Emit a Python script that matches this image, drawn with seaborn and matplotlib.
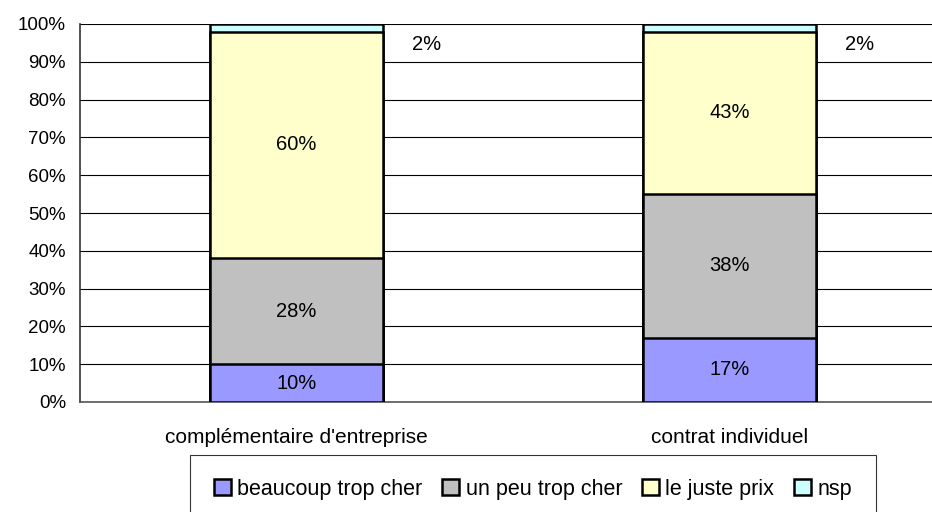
import matplotlib
matplotlib.use("Agg")
import matplotlib.pyplot as plt
from matplotlib.patches import Patch
import seaborn as sns
import numpy as np
import pandas as pd

sns.set_style("white")
plt.rcParams['font.family'] = ['Liberation Sans', 'DejaVu Sans']
plt.rcParams['text.color'] = 'black'
plt.rcParams['xtick.color'] = 'black'
plt.rcParams['ytick.color'] = 'black'

# data
categories = ["complémentaire d'entreprise", "contrat individuel"]
series = ["beaucoup trop cher", "un peu trop cher", "le juste prix", "nsp"]
beaucoup = [10, 17]
un_peu = [28, 38]
juste_prix = [60, 43]
nsp = [2, 2]
colors = ["#9999FF", "#C0C0C0", "#FFFFCC", "#CCFFFF"]

values = np.array([beaucoup, un_peu, juste_prix, nsp], dtype=float)
tops = values.cumsum(axis=0)
bottoms = tops - values

fig = plt.figure(figsize=(9.32, 5.12), dpi=100)
ax = fig.add_axes([80 / 932, 1 - 402 / 512, 866 / 932, 378 / 512])

# stacked bars: draw cumulative heights from the top segment down
for i in reversed(range(len(series))):
    df = pd.DataFrame({"cat": categories, "val": tops[i]})
    sns.barplot(data=df, x="cat", y="val", color=colors[i], saturation=1,
                width=0.4, edgecolor="black", linewidth=1.8, ax=ax, zorder=3)

# segment labels
for j in range(len(categories)):
    for i in range(len(series)):
        v = values[i, j]
        if i == len(series) - 1:
            ax.text(j + 0.3, 94.5, f"{v:.0f}%", ha="center", va="center", fontsize=14.5)
        else:
            ax.text(j, (bottoms[i, j] + tops[i, j]) / 2, f"{v:.0f}%",
                    ha="center", va="center", fontsize=14.5, zorder=5)

ax.set_ylim(0, 100)
ax.set_xlim(-0.5, 1.5)
ax.set_yticks(np.arange(0, 101, 10))
ax.set_yticklabels([f"{t}%" for t in range(0, 101, 10)], fontsize=13.5)
ax.yaxis.grid(True, color="black", linewidth=0.8)
ax.set_axisbelow(True)

ax.set_xticks([-0.5, 0.5, 1.5])
ax.set_xticklabels([])
ax.set_xticks([0, 1], minor=True)
ax.set_xticklabels(categories, minor=True, fontsize=15)
ax.tick_params(axis="x", which="major", length=8, direction="out", color="black", width=0.8)
ax.tick_params(axis="x", which="minor", length=0, pad=19)
ax.tick_params(axis="y", length=6, direction="out", color="black", width=0.8, pad=4)
ax.set_xlabel("")
ax.set_ylabel("")

for s in ["top", "right"]:
    ax.spines[s].set_visible(False)
ax.spines["left"].set_color("#333333")
ax.spines["bottom"].set_color("#555555")
ax.spines["left"].set_linewidth(1.2)
ax.spines["bottom"].set_linewidth(1.2)

handles = [Patch(facecolor=c, edgecolor="black", linewidth=1.8) for c in colors]
leg = fig.legend(handles, series, loc="upper left", bbox_to_anchor=(190 / 932, 1 - 455 / 512),
                 ncol=4, fontsize=15.5, frameon=True, fancybox=False, edgecolor="black",
                 handlelength=0.8, handleheight=0.8, handletextpad=0.3, columnspacing=0.9,
                 borderpad=1.1, borderaxespad=0)
leg.get_frame().set_linewidth(0.8)

fig.savefig("out.png", dpi=100)
